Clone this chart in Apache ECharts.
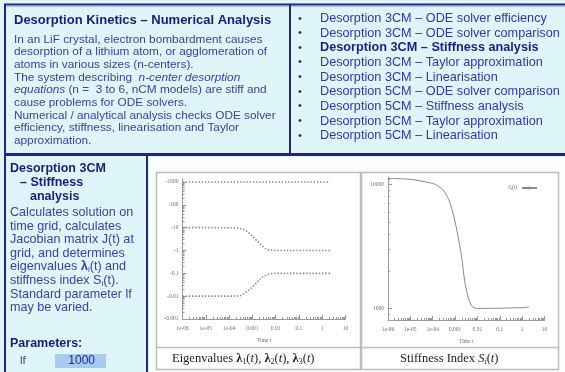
<!DOCTYPE html>
<html><head><meta charset="utf-8">
<script src="https://cdn.jsdelivr.net/npm/echarts@6/dist/echarts.min.js"></script>
<style>html,body{margin:0;padding:0;background:#def5fa;}#c{width:565px;height:372px;}</style>
</head><body><div id="c"></div><script>
// ---------- data ----------
const xTickValues = [1e-6, 1e-5, 1e-4, 1e-3, 1e-2, 0.1, 1, 10];
const xTickLabels = ['1e-06', '1e-05', '1e-04', '0.001', '0.01', '0.1', '1', '10'];
const eigTickValues = [0.001, 0.01, 0.1, 1, 10, 100, 1000];      // magnitudes of eigenvalues
const eigTickLabels = ['-0.001', '-0.01', '-0.1', '-1', '-10', '-100', '-1000'];
const stiffTickValues = [1000, 10000];
const stiffTickLabels = ['1000', '10000'];

const tLambda1 = [1e-6, 1e-5, 1e-4, 1e-3, 1e-2, 0.1, 1, 2.2];
const lambda1  = [-1000, -1000, -1000, -1000, -1000, -1000, -1000, -1000];
const tLambda2 = [1e-6, 1e-5, 1e-4, 2e-4, 4e-4, 7.7e-4, 1.5e-3, 2.5e-3, 4e-3, 6.6e-3, 1e-2, 0.1, 1, 2.2];
const lambda2  = [-10, -10, -9.9, -9.6, -8.5, -5.5, -2.8, -1.7, -1.15, -1.02, -1, -1, -1, -1];
const tLambda3 = [1e-6, 1e-5, 1e-4, 2.8e-4, 5.5e-4, 1.07e-3, 1.8e-3, 2.9e-3, 4.8e-3, 8e-3, 1e-2, 0.1, 1, 2.2];
const lambda3  = [-0.01, -0.01, -0.01, -0.0103, -0.0153, -0.027, -0.047, -0.072, -0.09, -0.099, -0.1, -0.1, -0.1, -0.1];

const tStiff     = [1e-6, 1e-5, 1e-4, 1.7e-4, 3e-4, 5e-4, 7e-4, 1e-3, 1.4e-3, 2e-3, 2.7e-3, 3.9e-3, 5.5e-3, 7.8e-3, 1e-2, 0.1, 1, 2];
const stiffIndex = [11200, 11000, 10200, 9760, 9000, 7700, 6450, 5000, 3700, 2550, 1660, 1220, 1050, 1005, 1000, 1005, 1015, 1025];

const introTitle = 'Desorption Kinetics – Numerical Analysis';
const introLines = [
  'In an LiF crystal, electron bombardment causes',
  'desorption of a lithium atom, or agglomeration of',
  'atoms in various sizes (n-centers).',
  'The system describing  {i|n-center desorption}',
  '{i|equations} (n =  3 to 6, nCM models) are stiff and',
  'cause problems for ODE solvers.',
  'Numerical / analytical analysis checks ODE solver',
  'efficiency, stiffness, linearisation and Taylor',
  'approximation.'
];
const menuItems = [
  'Desorption 3CM – ODE solver efficiency',
  'Desorption 3CM – ODE solver comparison',
  'Desorption 3CM – Stiffness analysis',
  'Desorption 3CM – Taylor approximation',
  'Desorption 3CM – Linearisation',
  'Desorption 5CM – ODE solver comparison',
  'Desorption 5CM – Stiffness analysis',
  'Desorption 5CM – Taylor approximation',
  'Desorption 5CM – Linearisation'
];
const activeItem = 2;
const panelTitle = ['Desorption 3CM', '– Stiffness', 'analysis'];
const panelLines = [
  'Calculates solution on',
  'time grid, calculates',
  'Jacobian matrix J(t) at',
  'grid, and determines',
  'eigenvalues {b|λ}{s|i}(t) and',
  'stiffness index S{s|i}(t).',
  'Standard parameter lf',
  'may be varied.'
];
const paramName = 'lf';
const paramValue = '1000';

// ---------- helpers ----------
const SANS = '"Liberation Sans", Arial, sans-serif';
const SERIF = '"Liberation Serif", "Times New Roman", serif';
function minorTicks(lo, hi) {
  const out = [];
  for (let e = lo; e <= hi; e++) for (let m = 1; m <= 9; m++) out.push(+(m * Math.pow(10, e)).toPrecision(6));
  return out;
}
function labelFrom(values, labels) {
  return v => { const l = Math.round(Math.log10(v)); const i = values.findIndex(x => Math.round(Math.log10(x)) === l); return i >= 0 ? labels[i] : ''; };
}
const AX = '#9a9a9a', LB = '#707070';
function logX(grid, withLabels) {
  return {
    type: 'log', logBase: 10, gridIndex: grid, min: 1e-6, max: 10, position: 'bottom',
    axisLine: { show: withLabels, lineStyle: { color: AX, width: 1 } },
    axisTick: { inside: true, length: withLabels ? 2 : 4, customValues: withLabels ? minorTicks(-6, 0) : xTickValues, lineStyle: { color: AX } },
    axisLabel: withLabels ? { customValues: xTickValues, formatter: labelFrom(xTickValues, xTickLabels), fontSize: 5.5, color: LB, fontFamily: SERIF, margin: 7 } : { show: false },
    splitLine: { show: false },
    name: withLabels ? 'Time t' : '', nameLocation: 'middle', nameGap: 19,
    nameTextStyle: { fontSize: 5.5, color: LB, fontFamily: SERIF }
  };
}
function tTxt(x, y, text, o) {
  return { type: 'text', x, y, z: 10, style: Object.assign({ text, fontFamily: SANS, fontSize: 11, fill: '#3e3e9c', align: 'left', verticalAlign: 'middle' }, o || {}) };
}
function line(x1, y1, x2, y2, color, w, z) {
  return { type: 'line', z: z == null ? 5 : z, shape: { x1, y1, x2, y2 }, style: { stroke: color, lineWidth: w } };
}

const NAVY = '#25257c';
const BODY = '#40409e';
const elements = [];
// backgrounds
elements.push({ type: 'rect', z: -20, shape: { x: 149, y: 157, width: 416, height: 215 }, style: { fill: '#fbfdfd' } });
// frames of charts
elements.push({ type: 'rect', z: -5, shape: { x: 156.5, y: 172.5, width: 204, height: 197 }, style: { fill: '#ffffff', stroke: '#bdbdbd', lineWidth: 1.5 } });
elements.push({ type: 'rect', z: -5, shape: { x: 361.5, y: 172.5, width: 197, height: 197 }, style: { fill: '#ffffff', stroke: '#bdbdbd', lineWidth: 1.5 } });
elements.push(line(156.5, 347.5, 558.5, 347.5, '#bdbdbd', 1.5, -4));
// navy borders
elements.push(line(4, 4.5, 565, 4.5, NAVY, 2));
elements.push(line(5, 4, 5, 372, NAVY, 2));
elements.push(line(290, 4, 290, 155, NAVY, 2));
elements.push(line(4, 154.5, 565, 154.5, NAVY, 3));
elements.push(line(147, 155, 147, 372, NAVY, 2));
elements.push(line(6.5, 6, 289, 6, '#7d93d6', 1));
elements.push(line(291.5, 6, 565, 6, '#7d93d6', 1));

// intro box
elements.push(tTxt(14, 20.5, introTitle, { fontWeight: 'bold', fontSize: 13, fill: '#1c1c74' }));
introLines.forEach((s, i) => elements.push(tTxt(14, 39.5 + i * 12.65, s, {
  fontSize: 11.8, lineHeight: 14, fill: BODY,
  rich: { i: { fontStyle: 'italic', fontFamily: SANS, fontSize: 11.8, lineHeight: 14, fill: BODY } }
})));
// menu
menuItems.forEach((s, i) => {
  const bold = i === activeItem;
  elements.push(tTxt(298, 18.5 + i * 14.65, '•', { fontSize: 11, fill: '#2c2c86' }));
  elements.push(tTxt(320, 18.5 + i * 14.65, s, { fontSize: 12.7, fontWeight: bold ? 'bold' : 'normal', fill: bold ? '#1e1e80' : '#3636a6' }));
});
// left panel
[10, 20, 30].forEach((x, i) => elements.push(tTxt(x, 168.5 + i * 14, panelTitle[i], { fontWeight: 'bold', fontSize: 12.5, fill: '#1c1c74' })));
panelLines.forEach((s, i) => elements.push(tTxt(10, 212.5 + i * 13.6, s, {
  fontSize: 12.6, lineHeight: 14, fill: BODY,
  rich: {
    b: { fontWeight: 'bold', fontFamily: SANS, fontSize: 13, lineHeight: 14, fill: BODY },
    s: { fontFamily: SANS, fontSize: 8, lineHeight: 6, verticalAlign: 'bottom', fill: BODY }
  }
})));
elements.push(tTxt(10, 344, 'Parameters:', { fontWeight: 'bold', fontSize: 12.5, fill: '#1c1c74' }));
elements.push(tTxt(20, 361, paramName, { fontSize: 11.5, fill: BODY }));
elements.push({ type: 'rect', z: 4, shape: { x: 55, y: 354, width: 51, height: 14 }, style: { fill: '#a6cbef' } });
elements.push(tTxt(95, 361, paramValue, { fontSize: 12, align: 'right', fill: '#2a2a84' }));

// chart captions
const capRich = {
  b: { fontWeight: 'bold', fontFamily: SERIF, fontSize: 12.5, lineHeight: 15, fill: '#222' },
  i: { fontStyle: 'italic', fontFamily: SERIF, fontSize: 12.5, lineHeight: 15, fill: '#222' },
  s: { fontFamily: SERIF, fontSize: 8, lineHeight: 6, verticalAlign: 'bottom', fill: '#222' },
  si: { fontStyle: 'italic', fontFamily: SERIF, fontSize: 8, lineHeight: 6, verticalAlign: 'bottom', fill: '#222' }
};
elements.push(tTxt(172, 358.5, 'Eigenvalues {b|λ}{s|1}({i|t}), {b|λ}{s|2}({i|t}), {b|λ}{s|3}({i|t})', { fontFamily: SERIF, fontSize: 12.5, lineHeight: 15, fill: '#222', rich: capRich }));
elements.push(tTxt(400, 358.5, 'Stiffness Index {i|S}{si|i}({i|t})', { fontFamily: SERIF, fontSize: 12.5, lineHeight: 15, fill: '#222', rich: capRich }));

const eigSeries = (ts, vs, name) => ({
  type: 'line', name, xAxisIndex: 0, yAxisIndex: 0, symbol: 'none', smooth: 0.35, silent: true,
  data: ts.map((t, i) => [t, Math.abs(vs[i])]),
  lineStyle: { type: [1.4, 1.8], width: 1.6, color: '#8a8a8a' }
});

const option = {
  animation: false,
  backgroundColor: '#def5fa',
  grid: [
    { left: 182.5, top: 179, width: 163, height: 140 },
    { left: 388, top: 177, width: 156.5, height: 143 }
  ],
  xAxis: [logX(0, true), logX(1, true), logX(0, false), logX(1, false)],
  yAxis: [
    {
      type: 'log', gridIndex: 0, min: 0.001, max: 1353,
      axisLine: { show: true, lineStyle: { color: AX } },
      axisTick: { inside: true, length: 2, customValues: minorTicks(-3, 3).filter(v => v <= 1000), lineStyle: { color: AX } },
      axisLabel: { customValues: eigTickValues, formatter: labelFrom(eigTickValues, eigTickLabels), fontSize: 5.5, color: LB, fontFamily: SERIF, margin: 4 },
      splitLine: { show: false }
    },
    {
      type: 'log', gridIndex: 1, min: 807, max: 11495,
      axisLine: { show: true, lineStyle: { color: AX } },
      axisTick: { inside: true, length: 2, customValues: [900, 1000, 2000, 3000, 4000, 5000, 6000, 7000, 8000, 9000, 10000, 11000], lineStyle: { color: AX } },
      axisLabel: { customValues: stiffTickValues, formatter: labelFrom(stiffTickValues, stiffTickLabels), fontSize: 5.5, color: LB, fontFamily: SERIF, margin: 4 },
      splitLine: { show: false }
    },
    {
      type: 'log', gridIndex: 0, min: 0.001, max: 1353, position: 'left',
      axisLine: { show: false }, axisLabel: { show: false }, splitLine: { show: false },
      axisTick: { inside: true, length: 4, customValues: eigTickValues, lineStyle: { color: AX } }
    },
    {
      type: 'log', gridIndex: 1, min: 807, max: 11495, position: 'left',
      axisLine: { show: false }, axisLabel: { show: false }, splitLine: { show: false },
      axisTick: { inside: true, length: 4, customValues: stiffTickValues, lineStyle: { color: AX } }
    }
  ],
  legend: {
    data: ['S'], right: 22, top: 180, align: 'right', itemWidth: 15, itemHeight: 4, itemGap: 4,
    formatter: () => '{s|S}{i|i}{s|(t)}',
    textStyle: { fontSize: 5.5, color: LB, fontFamily: SERIF, fontStyle: 'italic',
      rich: { s: { fontSize: 5.5, color: LB, fontFamily: SERIF, fontStyle: 'italic' }, i: { fontSize: 4, color: LB, fontFamily: SERIF, fontStyle: 'italic', verticalAlign: 'bottom', lineHeight: 3 } } }
  },
  series: [
    eigSeries(tLambda1, lambda1, 'λ1'),
    eigSeries(tLambda2, lambda2, 'λ2'),
    eigSeries(tLambda3, lambda3, 'λ3'),
    {
      type: 'line', name: 'S', xAxisIndex: 1, yAxisIndex: 1, symbol: 'none', smooth: 0.3, silent: true,
      data: tStiff.map((t, i) => [t, stiffIndex[i]]),
      lineStyle: { width: 1, color: '#8a8a8a' }, itemStyle: { color: '#8a8a8a' }
    }
  ],
  graphic: { elements }
};
const chart = echarts.init(document.getElementById('c'));
chart.setOption(option);
</script></body></html>
